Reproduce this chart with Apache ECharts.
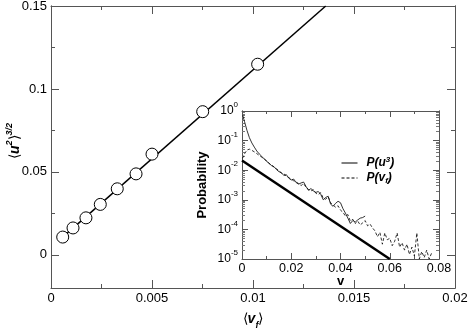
<!DOCTYPE html>
<html>
<head>
<meta charset="utf-8">
<script src="https://cdn.jsdelivr.net/npm/echarts@6/dist/echarts.min.js"></script>
<style>
  html, body { margin: 0; padding: 0; background: #fff; }
  #main { width: 469px; height: 331px; }
</style>
</head>
<body>
<div id="main"></div>
<script>
// main panel: <v_f> against <u^2>^(3/2)
var vfMean = [0.00058, 0.00109, 0.00173, 0.00244, 0.00328, 0.00421, 0.0050, 0.00751, 0.01023];
var u2Mean = [0.0107, 0.0162, 0.0223, 0.0304, 0.0398, 0.0488, 0.0607, 0.0863, 0.1149];
var fitX = [0.00058, 0.0136];
var fitY = [0.0107, 0.15];
var mainYTicks = [0, 0.05, 0.1, 0.15];
var mainYMinor = [0.025, 0.075, 0.125];

// inset: probability densities (values read as powers of ten)
var u3X = [0.0003, 0.001, 0.002, 0.003, 0.004, 0.005, 0.006, 0.007, 0.008, 0.009,
  0.010, 0.011, 0.012, 0.013, 0.014, 0.015, 0.016, 0.017, 0.018, 0.019,
  0.020, 0.021, 0.022, 0.023, 0.024, 0.025, 0.026, 0.027, 0.028, 0.029,
  0.030, 0.031, 0.032, 0.033, 0.034, 0.035, 0.036, 0.037, 0.038, 0.039,
  0.040, 0.041, 0.042, 0.043, 0.044, 0.045, 0.046, 0.047, 0.048, 0.049, 0.050];
var u3Exp = [-0.15, -0.35, -0.65, -0.90, -1.08, -1.22, -1.35, -1.45, -1.53, -1.62,
  -1.70, -1.76, -1.85, -1.88, -1.98, -2.05, -2.08, -2.18, -2.15, -2.27,
  -2.33, -2.30, -2.42, -2.47, -2.43, -2.40, -2.55, -2.68, -2.62, -2.70,
  -2.75, -2.72, -2.82, -3.00, -2.92, -2.88, -3.15, -3.22, -3.12, -3.05,
  -3.10, -3.30, -3.45, -3.62, -3.80, -3.70, -3.75, -3.68, -3.62, -3.60, -3.55];
var vfX = [0.0002, 0.001, 0.002, 0.003, 0.004, 0.005, 0.006, 0.007, 0.008, 0.009,
  0.010, 0.011, 0.012, 0.013, 0.014, 0.015, 0.016, 0.017, 0.018, 0.019,
  0.020, 0.021, 0.022, 0.023, 0.024, 0.025, 0.026, 0.027, 0.028, 0.029,
  0.030, 0.031, 0.032, 0.033, 0.034, 0.035, 0.036, 0.037, 0.038, 0.039,
  0.040, 0.041, 0.042, 0.043, 0.044, 0.045, 0.046, 0.047, 0.048, 0.049,
  0.050, 0.051, 0.052, 0.053, 0.054, 0.055, 0.056, 0.057, 0.058, 0.059,
  0.060, 0.061, 0.062, 0.063, 0.064, 0.065, 0.066, 0.067, 0.068, 0.069,
  0.070, 0.071, 0.072, 0.073, 0.074, 0.075, 0.076, 0.077];
var vfExp = [-1.60, -1.45, -1.32, -1.29, -1.33, -1.38, -1.44, -1.50, -1.56, -1.62,
  -1.68, -1.78, -1.82, -1.90, -1.95, -2.02, -2.10, -2.12, -2.20, -2.25,
  -2.30, -2.36, -2.40, -2.45, -2.52, -2.45, -2.58, -2.65, -2.70, -2.66,
  -2.78, -2.82, -2.76, -2.95, -2.98, -2.90, -3.10, -3.18, -3.25, -3.20,
  -3.35, -3.42, -3.55, -3.50, -3.72, -3.66, -3.80, -3.72, -3.85, -3.78,
  -3.70, -3.88, -3.82, -3.95, -4.05, -4.25, -4.10, -4.50, -4.12, -4.35,
  -4.30, -4.55, -4.40, -4.12, -4.60, -4.45, -4.70, -4.50, -4.85, -4.60,
  -4.90, -4.12, -5.00, -4.75, -4.95, -4.70, -5.00, -4.80];
var refX = [0, 0.06];
var refY = [0.0213, 0.00001];
var insetDecades = [1e-5, 1e-4, 1e-3, 1e-2, 1e-1, 1];

var insetMinor = [];
for (var d = 0; d < 5; d++) {
  for (var k = 2; k <= 9; k++) insetMinor.push(k * insetDecades[d]);
}

function pairs(xs, ys) {
  return xs.map(function (x, i) { return [x, ys[i]]; });
}
function powPairs(xs, es) {
  return xs.map(function (x, i) { return [x, Math.pow(10, es[i])]; });
}

var axisColor = '#555';
var font = 'Liberation Sans, Arial, sans-serif';

function frame(extra) {
  var a = {
    axisLine: { show: true, onZero: false, lineStyle: { color: axisColor, width: 1 } },
    splitLine: { show: false },
    axisLabel: { show: false },
    nameMoveOverlap: false
  };
  for (var key in extra) a[key] = extra[key];
  return a;
}

var myChart = echarts.init(document.getElementById('main'));

var option = {
  backgroundColor: '#fff',
  animation: false,
  textStyle: { fontFamily: font },
  grid: [
    { left: 51, right: 14, top: 6, bottom: 43, outerBoundsMode: 'none', containLabel: false },
    { left: 242, right: 30, top: 111, bottom: 72, outerBoundsMode: 'none', containLabel: false,
      show: true, backgroundColor: '#fff', borderWidth: 0 }
  ],
  legend: {
    data: ['P(u3)', 'P(vf)'],
    orient: 'vertical',
    left: 341,
    top: 156,
    padding: 0,
    itemWidth: 16,
    itemHeight: 10,
    itemGap: 3,
    itemStyle: { opacity: 0 },
    lineStyle: { width: 1 },
    formatter: function (name) {
      return name === 'P(u3)' ? '{b|P(u}{sup|3}{b|)}' : '{b|P(v}{sub|f}{b|)}';
    },
    textStyle: {
      padding: [0, 0, 0, 4],
      rich: {
        b: { fontSize: 12, fontWeight: 'bold', fontStyle: 'italic', fontFamily: font, color: '#000', lineHeight: 14 },
        sup: { fontSize: 8, fontWeight: 'bold', fontStyle: 'italic', fontFamily: font, color: '#000', lineHeight: 8, verticalAlign: 'top' },
        sub: { fontSize: 8, fontWeight: 'bold', fontStyle: 'italic', fontFamily: font, color: '#000', lineHeight: 8, verticalAlign: 'bottom' }
      }
    }
  },
  xAxis: [
    frame({
      gridIndex: 0, type: 'value', position: 'bottom', min: 0, max: 0.02, interval: 0.005,
      axisTick: { inside: true, length: 8, lineStyle: { color: axisColor } },
      minorTick: { show: true, splitNumber: 2, length: 4, lineStyle: { color: axisColor } },
      axisLabel: {
        show: true, fontSize: 13, color: '#000', margin: 4, showMinLabel: true, showMaxLabel: true,
        formatter: function (v) { return String(+v.toFixed(4)); }
      },
      name: '{a|⟨}{b|v}{sub|f}{a|⟩}',
      nameLocation: 'middle',
      nameGap: 20,
      nameTextStyle: {
        rich: {
          a: { fontSize: 14, color: '#000', fontFamily: font, lineHeight: 22 },
          b: { fontSize: 14, color: '#000', fontWeight: 'bold', fontStyle: 'italic', fontFamily: font, lineHeight: 22 },
          sub: { fontSize: 9, color: '#000', fontWeight: 'bold', fontStyle: 'italic', fontFamily: font, lineHeight: 10, verticalAlign: 'bottom' }
        }
      }
    }),
    frame({
      gridIndex: 0, type: 'value', position: 'top', min: 0, max: 0.02, interval: 0.005,
      axisTick: { inside: true, length: 8, lineStyle: { color: axisColor } },
      minorTick: { show: true, splitNumber: 2, length: 4, lineStyle: { color: axisColor } }
    }),
    frame({
      gridIndex: 1, type: 'value', position: 'bottom', min: 0, max: 0.08, interval: 0.02,
      axisTick: { inside: true, length: 6, lineStyle: { color: axisColor } },
      minorTick: { show: true, splitNumber: 2, length: 3, lineStyle: { color: axisColor } },
      axisLabel: {
        show: true, fontSize: 12.5, color: '#000', margin: 3, showMinLabel: true, showMaxLabel: true,
        formatter: function (v) { return String(+v.toFixed(3)); }
      },
      name: 'v',
      nameLocation: 'middle',
      nameGap: 16,
      nameTextStyle: { fontSize: 13, fontWeight: 'bold', color: '#000', fontFamily: font }
    }),
    frame({
      gridIndex: 1, type: 'value', position: 'top', min: 0, max: 0.08, interval: 0.02,
      axisTick: { inside: true, length: 6, lineStyle: { color: axisColor } },
      minorTick: { show: true, splitNumber: 2, length: 3, lineStyle: { color: axisColor } }
    })
  ],
  yAxis: [
    frame({
      gridIndex: 0, type: 'value', position: 'left', min: -0.02, max: 0.15,
      axisTick: { inside: true, length: 8, customValues: mainYTicks, lineStyle: { color: axisColor } },
      axisLabel: {
        show: true, fontSize: 13, color: '#000', margin: 4, customValues: mainYTicks,
        formatter: function (v) { return String(+v.toFixed(3)); }
      },
      name: '{a|⟨}{b|u}{sup|2}{a|⟩}{sup|3/2}',
      nameLocation: 'middle',
      nameGap: 26,
      nameTextStyle: {
        padding: [0, 0, 0, 12],
        rich: {
          a: { fontSize: 14, color: '#000', fontFamily: font, lineHeight: 20 },
          b: { fontSize: 14, color: '#000', fontWeight: 'bold', fontStyle: 'italic', fontFamily: font, lineHeight: 20 },
          sup: { fontSize: 9, color: '#000', fontWeight: 'bold', fontStyle: 'italic', fontFamily: font, lineHeight: 9, verticalAlign: 'top' }
        }
      }
    }),
    frame({
      gridIndex: 0, type: 'value', position: 'left', min: -0.02, max: 0.15,
      axisTick: { inside: true, length: 4, customValues: mainYMinor, lineStyle: { color: axisColor } }
    }),
    frame({
      gridIndex: 0, type: 'value', position: 'right', min: -0.02, max: 0.15,
      axisTick: { inside: true, length: 8, customValues: mainYTicks, lineStyle: { color: axisColor } }
    }),
    frame({
      gridIndex: 0, type: 'value', position: 'right', min: -0.02, max: 0.15,
      axisTick: { inside: true, length: 4, customValues: mainYMinor, lineStyle: { color: axisColor } }
    }),
    frame({
      gridIndex: 1, type: 'log', logBase: 10, position: 'left', min: 1e-5, max: 1,
      axisTick: { inside: true, length: 6, customValues: insetDecades, lineStyle: { color: axisColor } },
      axisLabel: {
        show: true, color: '#000', margin: 4, customValues: insetDecades,
        formatter: function (v) { return '{a|10}{sup|' + Math.round(Math.log10(v)) + '}'; },
        rich: {
          a: { fontSize: 12, color: '#000', fontFamily: font, lineHeight: 20 },
          sup: { fontSize: 8, color: '#000', fontFamily: font, lineHeight: 10, verticalAlign: 'top' }
        }
      },
      name: 'Probability',
      nameLocation: 'middle',
      nameGap: 33,
      nameTextStyle: { fontSize: 13, fontWeight: 'bold', color: '#000', fontFamily: font }
    }),
    frame({
      gridIndex: 1, type: 'log', logBase: 10, position: 'left', min: 1e-5, max: 1,
      axisTick: { inside: true, length: 3, customValues: insetMinor, lineStyle: { color: '#777' } }
    }),
    frame({
      gridIndex: 1, type: 'log', logBase: 10, position: 'right', min: 1e-5, max: 1,
      axisTick: { inside: true, length: 6, customValues: insetDecades, lineStyle: { color: axisColor } }
    }),
    frame({
      gridIndex: 1, type: 'log', logBase: 10, position: 'right', min: 1e-5, max: 1,
      axisTick: { inside: true, length: 3, customValues: insetMinor, lineStyle: { color: '#777' } }
    })
  ],
  series: [
    {
      type: 'line', xAxisIndex: 0, yAxisIndex: 0, data: pairs(fitX, fitY),
      symbol: 'none', lineStyle: { color: '#000', width: 1.5 }, z: 2
    },
    {
      type: 'scatter', xAxisIndex: 0, yAxisIndex: 0, data: pairs(vfMean, u2Mean),
      symbol: 'circle', symbolSize: 12,
      itemStyle: { color: '#fff', borderColor: '#000', borderWidth: 1, opacity: 1 }, z: 3
    },
    {
      type: 'line', xAxisIndex: 2, yAxisIndex: 4, data: pairs(refX, refY),
      symbol: 'none', lineStyle: { color: '#000', width: 2.5 }
    },
    {
      name: 'P(u3)', type: 'line', xAxisIndex: 2, yAxisIndex: 4, data: powPairs(u3X, u3Exp),
      symbol: 'none', lineStyle: { color: '#000', width: 0.8 }, itemStyle: { color: '#000' }
    },
    {
      name: 'P(vf)', type: 'line', xAxisIndex: 2, yAxisIndex: 4, data: powPairs(vfX, vfExp),
      symbol: 'none', lineStyle: { color: '#000', width: 0.8, type: [3, 2] }, itemStyle: { color: '#000' }
    }
  ]
};

myChart.setOption(option);
</script>
</body>
</html>
